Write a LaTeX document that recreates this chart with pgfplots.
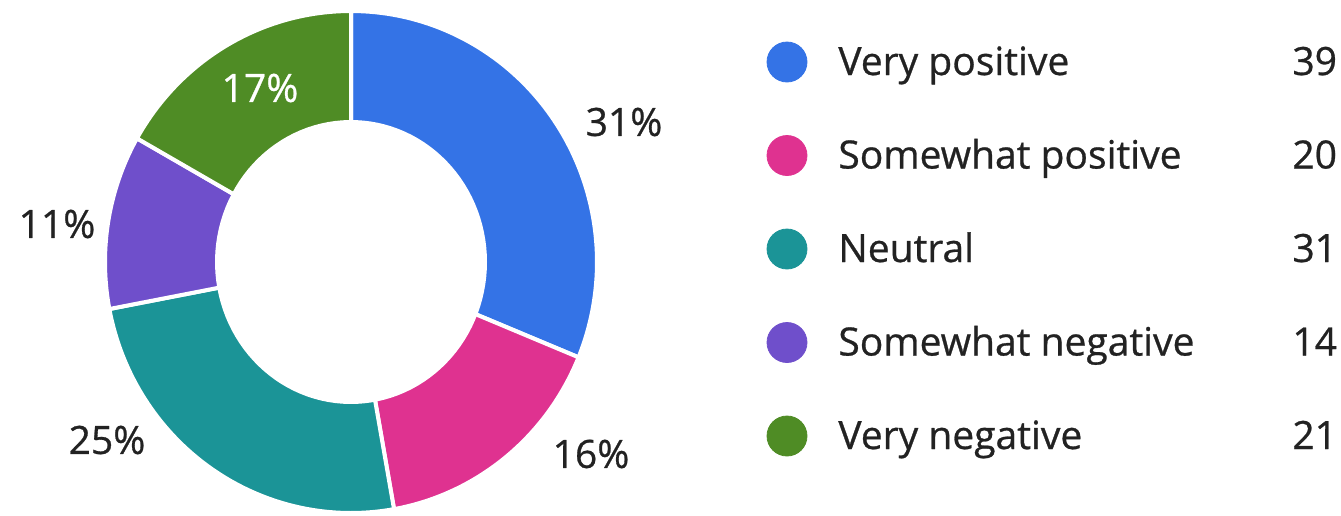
\documentclass[border=0pt]{standalone}
\usepackage{pgfplots}
\pgfplotsset{compat=1.18}
\usepackage{fontspec}
\setmainfont{Open Sans}[FakeBold=0.7]
\definecolor{cblue}{HTML}{3473E6}
\definecolor{cpink}{HTML}{DF3290}
\definecolor{cteal}{HTML}{1B9497}
\definecolor{cpurple}{HTML}{6F4FCB}
\definecolor{cgreen}{HTML}{4F8C25}
\definecolor{ctext}{HTML}{222222}
% data
\newcommand\vA{39}\newcommand\vB{20}\newcommand\vC{31}\newcommand\vD{14}\newcommand\vE{21}
\pgfmathsetmacro\tot{\vA+\vB+\vC+\vD+\vE}
\pgfmathsetmacro\aO{90}
\pgfmathsetmacro\aA{\aO-360*\vA/\tot}
\pgfmathsetmacro\aB{\aA-360*\vB/\tot}
\pgfmathsetmacro\aC{\aB-360*\vC/\tot}
\pgfmathsetmacro\aD{\aC-360*\vD/\tot}
\pgfmathsetmacro\aE{\aD-360*\vE/\tot}
% geometry (pixels)
\def\cx{351}\def\cy{262}\def\rx{246}\def\ry{251}\def\irx{136}\def\iry{142}
\begin{document}
\begin{tikzpicture}
\begin{axis}[
  width=670.5pt, height=257.5pt, scale only axis,
  xmin=0, xmax=1341, ymin=0, ymax=515, y dir=reverse,
  hide axis, clip=false,
]
\addplot[fill=cblue, draw=white, line width=2pt, domain=\aA:\aO, samples=80, variable=\t]
  ({\cx+\rx*cos(\t)},{\cy-\ry*sin(\t)}) -- (axis cs:\cx,\cy) -- cycle;
\addplot[fill=cpink, draw=white, line width=2pt, domain=\aB:\aA, samples=60, variable=\t]
  ({\cx+\rx*cos(\t)},{\cy-\ry*sin(\t)}) -- (axis cs:\cx,\cy) -- cycle;
\addplot[fill=cteal, draw=white, line width=2pt, domain=\aC:\aB, samples=80, variable=\t]
  ({\cx+\rx*cos(\t)},{\cy-\ry*sin(\t)}) -- (axis cs:\cx,\cy) -- cycle;
\addplot[fill=cpurple, draw=white, line width=2pt, domain=\aD:\aC, samples=40, variable=\t]
  ({\cx+\rx*cos(\t)},{\cy-\ry*sin(\t)}) -- (axis cs:\cx,\cy) -- cycle;
\addplot[fill=cgreen, draw=white, line width=2pt, domain=\aE:\aD, samples=50, variable=\t]
  ({\cx+\rx*cos(\t)},{\cy-\ry*sin(\t)}) -- (axis cs:\cx,\cy) -- cycle;
\addplot[fill=white, draw=none, domain=0:360, samples=120, variable=\t]
  ({\cx+\irx*cos(\t)},{\cy-\iry*sin(\t)}) -- cycle;
% slice labels
\begin{scope}[every node/.style={font=\fontsize{19.5pt}{22pt}\selectfont, inner sep=0pt, text=ctext}]
\node at (axis cs:624,122) {31\%};
\node at (axis cs:591,454) {16\%};
\node at (axis cs:107,440) {25\%};
\node at (axis cs:57,224) {11\%};
\node[text=white] at (axis cs:260,88) {17\%};
\end{scope}
% legend
\addplot[only marks, mark=*, mark size=10pt, color=cblue] coordinates {(787,62)};
\addplot[only marks, mark=*, mark size=10pt, color=cpink] coordinates {(787,155.5)};
\addplot[only marks, mark=*, mark size=10pt, color=cteal] coordinates {(787,249)};
\addplot[only marks, mark=*, mark size=10pt, color=cpurple] coordinates {(787,342.5)};
\addplot[only marks, mark=*, mark size=10pt, color=cgreen] coordinates {(787,436)};
\begin{scope}[every node/.style={font=\fontsize{19.5pt}{22pt}\selectfont, inner sep=0pt, anchor=base west, text=ctext}]
\node at (axis cs:838,75) {Very positive};
\node at (axis cs:838,168.5) {Somewhat positive};
\node at (axis cs:838,262) {Neutral};
\node at (axis cs:838,355.5) {Somewhat negative};
\node at (axis cs:838,449) {Very negative};
\node at (axis cs:1292,75) {\vA};
\node at (axis cs:1292,168.5) {\vB};
\node at (axis cs:1292,262) {\vC};
\node at (axis cs:1292,355.5) {\vD};
\node at (axis cs:1292,449) {\vE};
\end{scope}
\end{axis}
\pgfresetboundingbox
\path (current axis.south west) rectangle (current axis.north east);
\end{tikzpicture}
\end{document}
